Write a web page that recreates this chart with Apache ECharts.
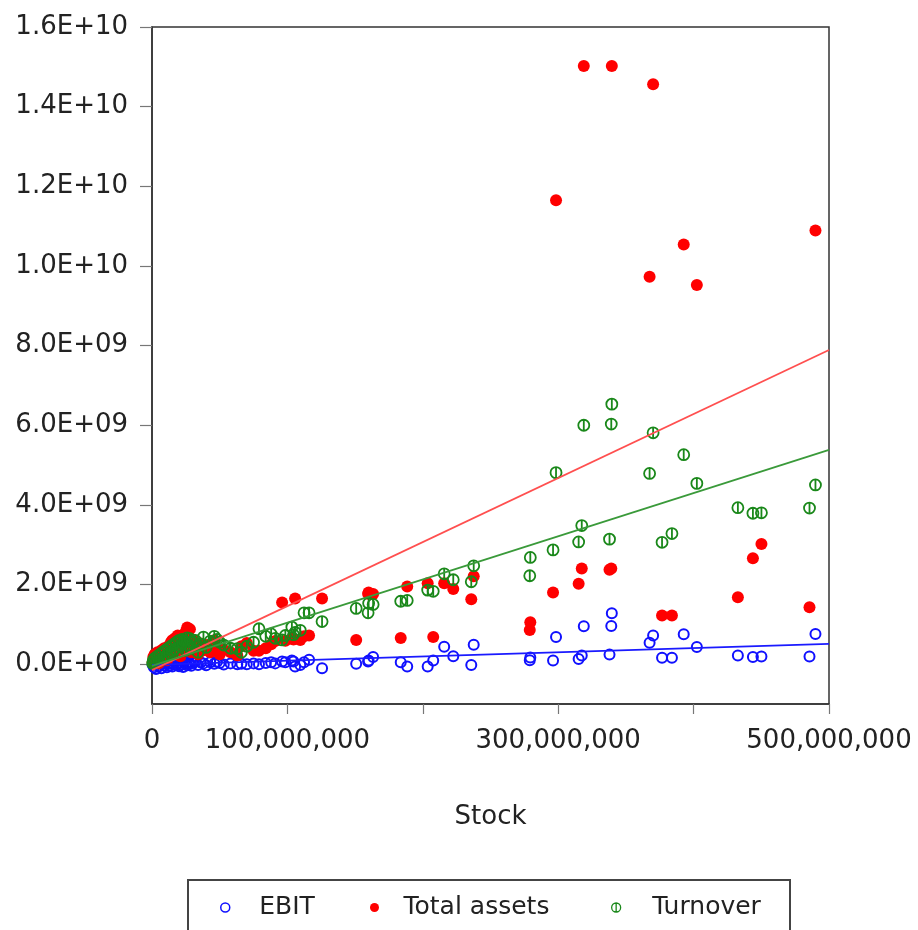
<!DOCTYPE html>
<html>
<head>
<meta charset="utf-8">
<script src="https://cdn.jsdelivr.net/npm/echarts@6/dist/echarts.min.js"></script>
<style>
  html, body { margin: 0; padding: 0; background: #fff; }
  #chart { width: 918px; height: 930px; }
</style>
</head>
<body>
<div id="chart"></div>
<script>
// Firm-level data: stock (millions) against EBIT, total assets and turnover (billions)
const stockM = [
  0.5, 1, 1.5, 2, 3, 4, 5, 6, 7, 8,
  9, 10, 11, 12, 13, 14, 15, 16, 17, 18,
  19, 20, 21, 22, 23, 24, 25, 26, 27, 28,
  29, 30, 32, 34, 36, 38, 40, 43, 46, 48,
  50, 53, 58, 63, 66, 70, 75, 79, 84, 88,
  91, 96.1, 98.5, 103.3, 104.5, 105.7, 109.5, 112.3, 116.0, 125.6,
  150.8, 159.6, 160.0, 163.3, 183.7, 188.5, 203.6, 207.7, 215.8, 222.5,
  235.8, 237.6, 279.0, 279.4, 296.2, 298.4, 315.1, 317.4, 318.9, 337.9,
  339.2, 339.6, 367.5, 370.1, 376.7, 384.0, 392.7, 402.4, 432.7, 443.8,
  450.1, 485.6, 490.0
];
const ebitB = [
  -0.02, 0.00, -0.08, 0.02, -0.12, 0.01, -0.05, 0.03, -0.10, 0.02,
  -0.03, 0.04, -0.08, 0.01, -0.04, 0.03, -0.06, 0.02, 0.05, -0.02,
  0.03, -0.05, 0.04, 0.00, -0.07, 0.06, 0.02, -0.03, 0.05, 0.01,
  -0.04, 0.03, 0.07, -0.02, 0.04, 0.02, -0.03, 0.05, 0.01, 0.06,
  0.03, -0.01, 0.02, 0.00, 0.01, 0.00, 0.02, 0.00, 0.03, 0.05,
  0.02, 0.07, 0.05, 0.09, 0.07, -0.06, -0.02, 0.05, 0.11, -0.10,
  0.01, 0.07, 0.09, 0.18, 0.05, -0.06, -0.06, 0.09, 0.44, 0.20,
  -0.02, 0.49, 0.10, 0.17, 0.09, 0.68, 0.13, 0.22, 0.95, 0.24,
  0.96, 1.28, 0.54, 0.72, 0.16, 0.16, 0.75, 0.43, 0.22, 0.18,
  0.19, 0.19, 0.76
];
const totalAssetsB = [
  0.05, 0.18, 0.08, 0.25, 0.12, 0.30, 0.02, 0.20, 0.35, 0.15,
  0.40, 0.28, 0.10, 0.45, 0.25, 0.55, 0.60, 0.38, 0.65, 0.48,
  0.72, 0.58, 0.20, 0.66, 0.40, 0.75, 0.82, 0.92, 0.55, 0.88,
  0.30, 0.62, 0.45, 0.25, 0.52, 0.35, 0.48, 0.30, 0.60, 0.42,
  0.25, 0.36, 0.30, 0.22, 0.45, 0.53, 0.34, 0.34, 0.40, 0.50,
  0.58, 1.55, 0.59, 0.64, 0.62, 1.65, 0.61, 0.70, 0.72, 1.65,
  0.61, 1.77, 1.80, 1.76, 0.66, 1.95, 2.03, 0.68, 2.03, 1.89,
  1.63, 2.21, 0.86, 1.05, 1.80, 11.65, 2.02, 2.40, 15.02, 2.37,
  2.40, 15.02, 9.73, 14.56, 1.22, 1.22, 10.54, 9.52, 1.68, 2.66,
  3.02, 1.43, 10.89
];
const turnoverB = [
  0.02, 0.10, 0.03, 0.15, 0.05, 0.20, 0.08, 0.25, 0.12, 0.30,
  0.18, 0.35, 0.22, 0.40, 0.28, 0.45, 0.33, 0.50, 0.38, 0.55,
  0.30, 0.60, 0.45, 0.62, 0.52, 0.58, 0.35, 0.66, 0.48, 0.64,
  0.40, 0.55, 0.60, 0.30, 0.50, 0.68, 0.42, 0.58, 0.70, 0.62,
  0.55, 0.48, 0.40, 0.39, 0.30, 0.45, 0.55, 0.89, 0.70, 0.76,
  0.65, 0.61, 0.72, 0.93, 0.74, 0.80, 0.85, 1.29, 1.29, 1.07,
  1.40, 1.29, 1.53, 1.50, 1.58, 1.60, 1.86, 1.83, 2.27, 2.12,
  2.07, 2.47, 2.22, 2.68, 2.87, 4.81, 3.07, 3.48, 6.00, 3.14,
  6.03, 6.53, 4.79, 5.81, 3.06, 3.28, 5.26, 4.54, 3.93, 3.79,
  3.80, 3.92, 4.50
];

// Linear fit lines: endpoints at stock = 0 and 500 million (values in billions)
const fitStockM = [0, 500];
const ebitFitB = [-0.02, 0.51];
const totalAssetsFitB = [-0.15, 7.89];
const turnoverFitB = [-0.04, 5.38];

// Axis ticks and labels
const yTicksB = [0, 2, 4, 6, 8, 10, 12, 14, 16];
const xTicksM = [0, 100, 200, 300, 400, 500];
const xLabelsM = [0, 100, 300, 500];

const M = 1e6, B = 1e9;
const pts = (ys) => stockM.map((s, i) => [s * M, ys[i] * B]);
const fitPts = (ys) => fitStockM.map((s, i) => [s * M, ys[i] * B]);

function sci(v) {
  if (v === 0) return '0.0E+00';
  const e = Math.floor(Math.log10(Math.abs(v)) + 1e-9);
  const m = v / Math.pow(10, e);
  return m.toFixed(1) + 'E+' + String(e).padStart(2, '0');
}

const FONT = 'DejaVu Sans';
const BLUE = '#1010ff', RED = '#ff0000', GREEN = '#1a881a';
const barCircle = 'path://M10 0A10 10 0 1 1 10 20A10 10 0 1 1 10 0ZM10 0L10 20';

const chart = echarts.init(document.getElementById('chart'), null, { renderer: 'canvas' });

function legendFor(name, left, icon, style, textPad) {
  return {
    data: [name], left: left, top: 890, icon: icon,
    itemWidth: 14, itemHeight: 9, selectedMode: false,
    itemStyle: style,
    textStyle: { fontFamily: FONT, fontSize: 25, color: '#222', padding: [0, 0, 0, textPad] }
  };
}

chart.setOption({
  animation: false,
  backgroundColor: '#fff',
  grid: { left: 152, right: 89, top: 27, bottom: 226, show: true, borderColor: '#333', borderWidth: 1.5, backgroundColor: '#fff' },
  graphic: [{
    type: 'rect', z: 0,
    shape: { x: 188, y: 880, width: 602, height: 70 },
    style: { fill: '#fff', stroke: '#444', lineWidth: 2 }
  }],
  legend: [
    legendFor('EBIT', 215, 'circle', { color: 'rgba(255,255,255,0)', borderColor: BLUE, borderWidth: 1.5, opacity: 1 }, 22),
    legendFor('Total assets', 365, 'circle', { color: RED, borderWidth: 0, opacity: 1 }, 17),
    legendFor('Turnover', 606, barCircle, { color: 'rgba(255,255,255,0)', borderColor: GREEN, borderWidth: 1.3, opacity: 1 }, 24)
  ],
  xAxis: {
    type: 'value', min: 0, max: 500 * M,
    name: 'Stock', nameLocation: 'middle', nameGap: 100,
    nameTextStyle: { fontFamily: FONT, fontSize: 26, color: '#222' },
    splitLine: { show: false },
    axisLine: { show: true, onZero: false, lineStyle: { color: '#333', width: 1.5 } },
    axisTick: { show: true, length: 10, lineStyle: { color: '#777', width: 1.2 }, customValues: xTicksM.map(v => v * M) },
    axisLabel: {
      margin: 24, fontFamily: FONT, fontSize: 26, color: '#222',
      customValues: xLabelsM.map(v => v * M),
      formatter: v => Math.round(v).toLocaleString('en-US')
    }
  },
  yAxis: {
    type: 'value', min: -1 * B, max: 16 * B,
    splitLine: { show: false },
    axisLine: { show: true, onZero: false, lineStyle: { color: '#333', width: 1.5 } },
    axisTick: { show: true, length: 12, lineStyle: { color: '#777', width: 1.2 }, customValues: yTicksB.map(v => v * B) },
    axisLabel: {
      margin: 24, fontFamily: FONT, fontSize: 26, color: '#222',
      customValues: yTicksB.map(v => v * B),
      formatter: v => sci(v)
    }
  },
  series: [
    {
      name: 'EBIT', type: 'scatter', data: pts(ebitB), symbol: 'circle', symbolSize: 10,
      itemStyle: { color: 'rgba(255,255,255,0)', borderColor: BLUE, borderWidth: 2, opacity: 1 }, z: 2
    },
    {
      name: 'Total assets', type: 'scatter', data: pts(totalAssetsB), symbol: 'circle', symbolSize: 12,
      itemStyle: { color: RED, opacity: 1 }, z: 3
    },
    {
      name: 'Turnover', type: 'scatter', data: pts(turnoverB), symbol: barCircle, symbolSize: 11,
      itemStyle: { color: 'rgba(255,255,255,0)', borderColor: GREEN, borderWidth: 1.8, opacity: 1 }, z: 4
    },
    {
      name: 'EBIT fit', type: 'line', data: fitPts(ebitFitB), showSymbol: false, silent: true,
      lineStyle: { color: '#1a1aff', width: 1.8 }, z: 5
    },
    {
      name: 'Total assets fit', type: 'line', data: fitPts(totalAssetsFitB), showSymbol: false, silent: true,
      lineStyle: { color: '#ff4f4f', width: 1.8 }, z: 5
    },
    {
      name: 'Turnover fit', type: 'line', data: fitPts(turnoverFitB), showSymbol: false, silent: true,
      lineStyle: { color: '#3a9a3a', width: 1.8 }, z: 5
    }
  ]
});
</script>
</body>
</html>
